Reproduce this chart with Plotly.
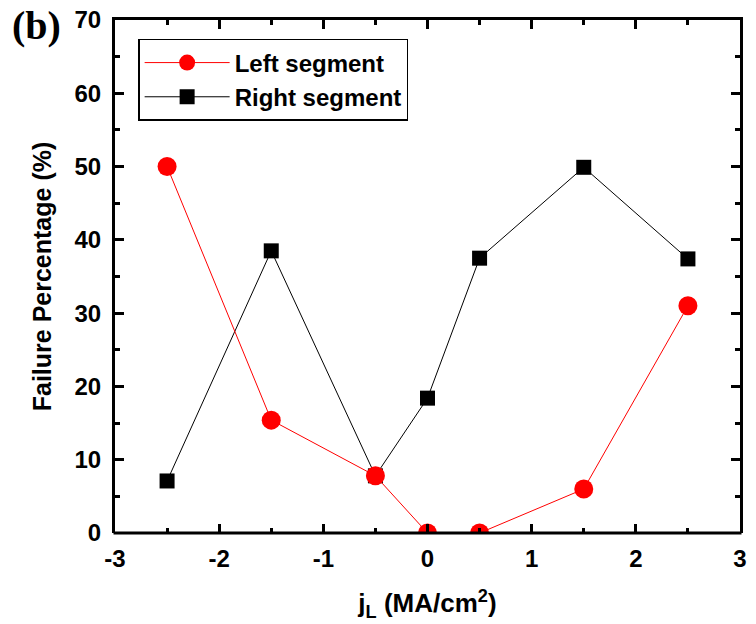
import plotly.graph_objects as go

x_vals = [-2.5, -1.5, -0.5, 0, 0.5, 1.5, 2.5]
left_segment = [50.0, 15.4, 7.8, 0.0, 0.0, 6.0, 31.0]
right_segment = [7.1, 38.5, 7.8, 18.4, 37.5, 49.9, 37.4]
x_tick_vals = [-3, -2, -1, 0, 1, 2, 3]
x_tick_text = ["-3", "-2", "-1", "0", "1", "2", "3"]
y_tick_vals = [0, 10, 20, 30, 40, 50, 60, 70]

fig = go.Figure()
fig.add_trace(go.Scatter(
    x=x_vals, y=right_segment, mode="lines+markers", name="Right segment",
    line=dict(color="black", width=1),
    marker=dict(symbol="square", size=15, color="black"),
))
fig.add_trace(go.Scatter(
    x=x_vals, y=left_segment, mode="lines+markers", name="Left segment",
    line=dict(color="#ff0000", width=1),
    marker=dict(symbol="circle", size=19, color="#ff0000"),
))

bold_font = dict(family="Liberation Sans, Arial", color="black", weight="bold")

axis_common = dict(
    showline=True, linecolor="black", linewidth=3, mirror="allticks",
    ticks="inside", ticklen=9, tickwidth=3, tickcolor="black",
    showgrid=False, zeroline=False, automargin=False,
    tickfont=dict(size=24, **bold_font),
)

fig.update_xaxes(
    range=[-3, 3], tickmode="array", tickvals=x_tick_vals, ticktext=x_tick_text,
    minor=dict(tickmode="linear", tick0=0, dtick=0.5, ticks="inside", ticklen=5, tickwidth=3, tickcolor="black"),
    ticklabelstandoff=2,
    title=dict(text="j<sub>L</sub> (MA/cm<sup>2</sup>)", standoff=24,
               font=dict(size=26, **bold_font)),
    **axis_common,
)
fig.update_yaxes(
    range=[0, 70], tickmode="array", tickvals=y_tick_vals,
    minor=dict(tickmode="linear", tick0=0, dtick=5, ticks="inside", ticklen=5, tickwidth=3, tickcolor="black"),
    ticklabelstandoff=6,
    title=dict(text="Failure Percentage (%)", standoff=16,
               font=dict(size=25, **bold_font)),
    **axis_common,
)

fig.update_layout(
    width=756, height=624,
    margin=dict(l=115, r=16, t=20, b=91, autoexpand=False),
    paper_bgcolor="white", plot_bgcolor="white",
    legend=dict(
        x=0.037, y=0.963, xanchor="left", yanchor="top",
        bordercolor="black", borderwidth=1.5, bgcolor="white",
        traceorder="reversed",
        font=dict(size=24, **bold_font),
        itemwidth=85,
    ),
    annotations=[dict(
        text="(b)", xref="paper", yref="paper", x=-0.168, y=1.037,
        xanchor="left", yanchor="top", showarrow=False,
        font=dict(family="Liberation Serif, Times New Roman", size=40, color="black", weight="bold"),
    )],
    shapes=[
        # mask parts of markers falling below the x axis (markers clipped at axis)
        dict(type="rect", xref="paper", yref="paper", x0=-0.01, x1=1.01, y0=-0.022, y1=0,
             fillcolor="white", line=dict(width=0), layer="above"),
        dict(type="line", xref="paper", yref="paper", x0=-0.0024, x1=1.0024, y0=0, y1=0,
             line=dict(color="black", width=3), layer="above"),
    ],
)

fig.write_html("out.html")
